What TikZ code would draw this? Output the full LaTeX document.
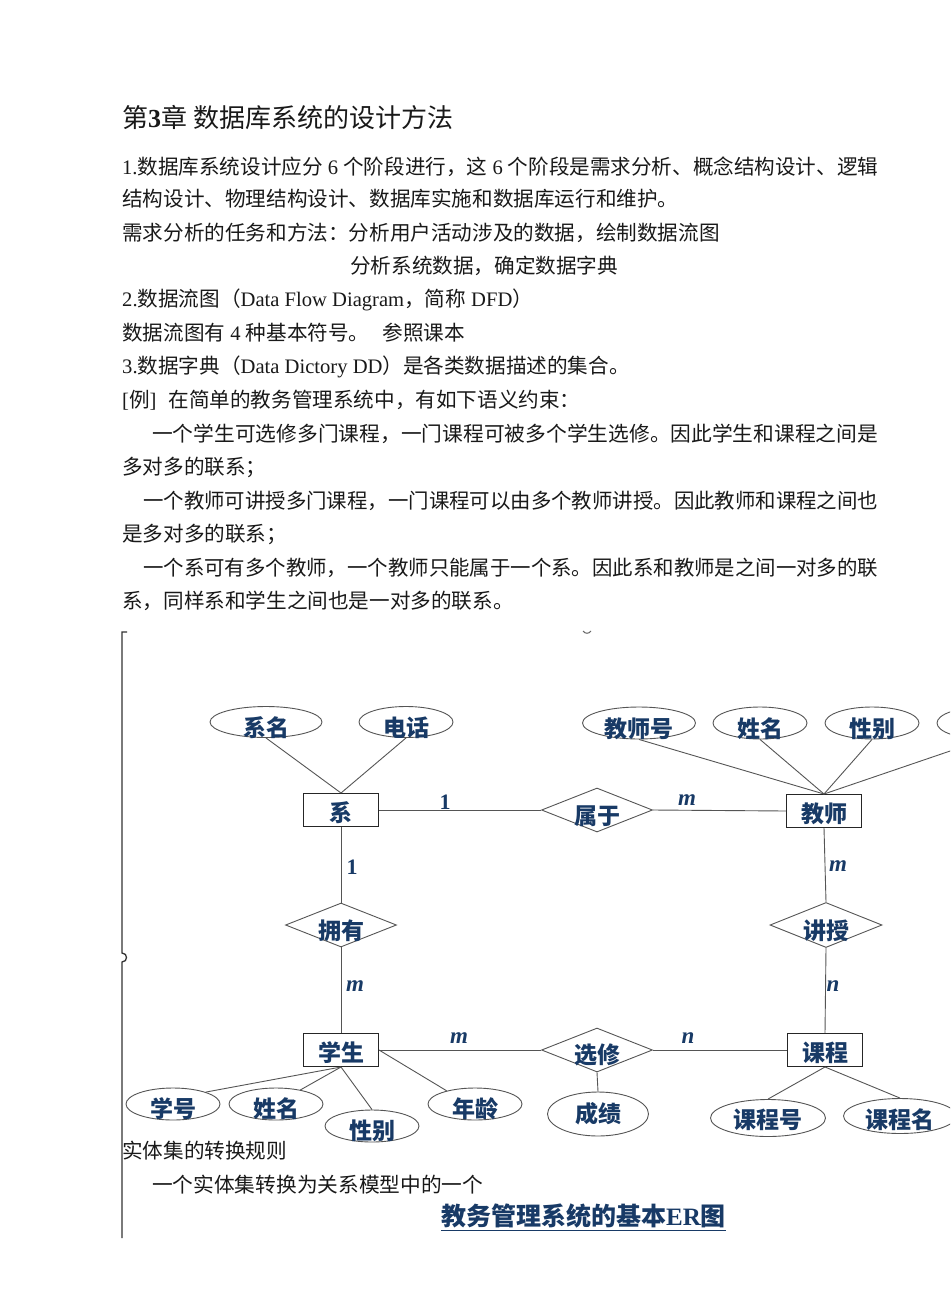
\documentclass[tikz,border=0pt]{standalone}
\usepackage{fontspec}
\usepackage{graphicx}
\setmainfont{Noto Sans CJK SC}
\newfontfamily\tnr{Liberation Serif}
\usetikzlibrary{shapes.geometric}
\definecolor{erblue}{RGB}{24,58,102}
\definecolor{txt}{RGB}{25,25,25}
\definecolor{lnk}{RGB}{85,85,85}
\begin{document}
\begin{tikzpicture}[x=1pt,y=-1pt,
 body/.style={anchor=west,inner sep=0pt,font=\fontsize{20.6}{24}\selectfont,text=txt},
 attr/.style={ellipse,draw=lnk,line width=0.9pt,minimum width=94pt,minimum height=32pt,inner sep=0pt},
 ent/.style={rectangle,draw=black!85,line width=1pt,minimum width=75pt,minimum height=33pt,inner sep=0pt},
 rel/.style={diamond,draw=lnk,line width=0.9pt,minimum width=111pt,minimum height=44pt,inner sep=0pt},
 erlbl/.style={inner sep=0pt,text=erblue,font=\fontsize{23}{26}\selectfont\bfseries},
 card/.style={inner sep=0pt,text=erblue,font=\fontsize{23}{26}\selectfont\tnr\bfseries\itshape},
 cardone/.style={inner sep=0pt,text=erblue,font=\fontsize{22}{26}\selectfont\tnr\bfseries},
 link/.style={draw=lnk,line width=0.9pt}]
\fill[white] (0,0) rectangle (950,1316);
\clip (0,0) rectangle (950,1316);

% ---- text ----
\node[body] (t0) at (122,118) {\fontsize{26}{30}\selectfont 第{\tnr\bfseries 3}章 数据库系统的设计方法};
\node[body] (l1) at (122,167) {\resizebox{756pt}{\height}{{\tnr 1.}数据库系统设计应分{\tnr\ 6\ }个阶段进行，这{\tnr\ 6\ }个阶段是需求分析、概念结构设计、逻辑}};
\node[body] (l2) at (122,199) {结构设计、物理结构设计、数据库实施和数据库运行和维护。};
\node[body] (l3) at (122,233) {需求分析的任务和方法：分析用户活动涉及的数据，绘制数据流图};
\node[body] (l4) at (350,266) {分析系统数据，确定数据字典};
\node[body] (l5) at (122,300) {{\tnr 2.}数据流图（{\tnr Data Flow Diagram}，简称{\tnr\ DFD}）};
\node[body] (l6) at (122,333) {数据流图有{\tnr\ 4 }种基本符号。\hspace{13pt}参照课本};
\node[body] (l7) at (122,367) {{\tnr 3.}数据字典（{\tnr Data Dictory DD}）是各类数据描述的集合。};
\node[body] (l8) at (122,400) {{\tnr [}例{\tnr ]}\hspace{12pt}在简单的教务管理系统中，有如下语义约束：};
\node[body] (l9) at (152,434) {\resizebox{726pt}{\height}{一个学生可选修多门课程，一门课程可被多个学生选修。因此学生和课程之间是}};
\node[body] (l10) at (122,467) {多对多的联系；};
\node[body] (l11) at (143,501) {\resizebox{735pt}{\height}{一个教师可讲授多门课程，一门课程可以由多个教师讲授。因此教师和课程之间也}};
\node[body] (l12) at (122,534) {是多对多的联系；};
\node[body] (l13) at (143,568) {\resizebox{735pt}{\height}{一个系可有多个教师，一个教师只能属于一个系。因此系和教师是之间一对多的联}};
\node[body] (l14) at (122,601) {系，同样系和学生之间也是一对多的联系。};
\node[body] (l15) at (122,1151) {实体集的转换规则};
\node[body] (l16) at (152,1185) {\resizebox{331pt}{\height}{一个实体集转换为关系模型中的一个}};
\node[anchor=west,inner sep=0pt,text=erblue,font=\fontsize{25}{28}\selectfont\bfseries] (ertitle) at (441,1216) {教务管理系统的基本{\tnr ER}图};
\draw[erblue,line width=1.3pt] ([yshift=-2pt]ertitle.south west) -- ([yshift=-2pt]ertitle.south east);

% ---- frame marks ----
\draw[black!80,line width=1.3pt] (127,632) -- (122,632) -- (122,953) .. controls (128,953) and (128,962) .. (122,962) -- (122,1238);
\draw[black!60,line width=1pt] (583,631) .. controls (585,634) and (589,634) .. (591,631);

% ---- ER shapes ----
\node[attr,minimum width=112pt,minimum height=31pt] (ximing) at (266,722) {};
\node[attr,minimum height=31pt] (dianhua) at (406,722) {};
\node[ent] (xi) at (341,810) {};
\node[rel] (shuyu) at (597,810) {};
\node[attr,minimum width=113pt] (jsh) at (639,723) {};
\node[attr] (jxm) at (760,723) {};
\node[attr] (jxb) at (872,723) {};
\node[attr] (jqt) at (984,723) {};
\node[ent] (jiaoshi) at (824,811) {};
\node[rel] (yongyou) at (341,925) {};
\node[rel,minimum width=112pt,minimum height=45pt] (jiangshou) at (826,925) {};
\node[ent] (xuesheng) at (341,1050) {};
\node[rel] (xuanxiu) at (597,1050) {};
\node[ent] (kecheng) at (825,1050) {};
\node[attr] (xuehao) at (173,1104) {};
\node[attr] (sxm) at (276,1104) {};
\node[attr] (sxb) at (372,1126) {};
\node[attr] (nianling) at (475,1104) {};
\node[attr,minimum width=101pt,minimum height=44pt] (chengji) at (598,1114) {};
\node[attr,minimum width=115pt,minimum height=37pt] (kch) at (768,1118) {};
\node[attr,minimum width=113pt,minimum height=35pt] (kcm) at (900,1116) {};

% ---- connectors ----
\draw[link] (ximing.south) -- (xi.north);
\draw[link] (dianhua.south) -- (xi.north);
\draw[link] (xi.east) -- (shuyu.west);
\draw[link] (shuyu.east) -- (jiaoshi.west);
\draw[link] (jsh.south) -- (jiaoshi.north);
\draw[link] (jxm.south) -- (jiaoshi.north);
\draw[link] (jxb.south) -- (jiaoshi.north);
\draw[link] (jqt.south) -- (jiaoshi.north);
\draw[link] (xi.south) -- (yongyou.north);
\draw[link] (yongyou.south) -- (xuesheng.north);
\draw[link] (jiaoshi.south) -- (jiangshou.north);
\draw[link] (jiangshou.south) -- (kecheng.north);
\draw[link] (xuesheng.east) -- (xuanxiu.west);
\draw[link] (xuanxiu.east) -- (kecheng.west);
\draw[link] (xuanxiu.south) -- (chengji.north);
\draw[link] (xuesheng.south) -- (xuehao.20);
\draw[link] (xuesheng.south) -- (sxm.30);
\draw[link] (xuesheng.south) -- (sxb.north);
\draw[link] (xuesheng.east) -- (nianling.155);
\draw[link] (kecheng.south) -- (kch.north);
\draw[link] (kecheng.south) -- (kcm.north);

% ---- ER labels ----
\node[erlbl] (ximing-t) at (266,728) {系名};
\node[erlbl] (dianhua-t) at (406,728) {电话};
\node[erlbl] (xi-t) at (341,813) {系};
\node[erlbl] (shuyu-t) at (597,816) {属于};
\node[erlbl] (jsh-t) at (639,729) {教师号};
\node[erlbl] (jxm-t) at (760,729) {姓名};
\node[erlbl] (jxb-t) at (872,729) {性别};
\node[erlbl] (jiaoshi-t) at (824,814) {教师};
\node[erlbl] (yongyou-t) at (341,931) {拥有};
\node[erlbl] (jiangshou-t) at (826,931) {讲授};
\node[erlbl] (xuesheng-t) at (341,1053) {学生};
\node[erlbl] (xuanxiu-t) at (597,1055) {选修};
\node[erlbl] (kecheng-t) at (825,1053) {课程};
\node[erlbl] (xuehao-t) at (173,1109) {学号};
\node[erlbl] (sxm-t) at (276,1109) {姓名};
\node[erlbl] (sxb-t) at (372,1131) {性别};
\node[erlbl] (nianling-t) at (475,1109) {年龄};
\node[erlbl] (chengji-t) at (598,1114) {成绩};
\node[erlbl] (kch-t) at (768,1120) {课程号};
\node[erlbl] (kcm-t) at (900,1120) {课程名};

% ---- cardinalities ----
\node[cardone] (c1) at (445,802) {1};
\node[card] (c2) at (687,800) {m};
\node[cardone] (c3) at (352,867) {1};
\node[card] (c4) at (838,866) {m};
\node[card] (c5) at (355,986) {m};
\node[card] (c6) at (833,986) {n};
\node[card] (c7) at (459,1038) {m};
\node[card] (c8) at (688,1038) {n};
\end{tikzpicture}
\end{document}
